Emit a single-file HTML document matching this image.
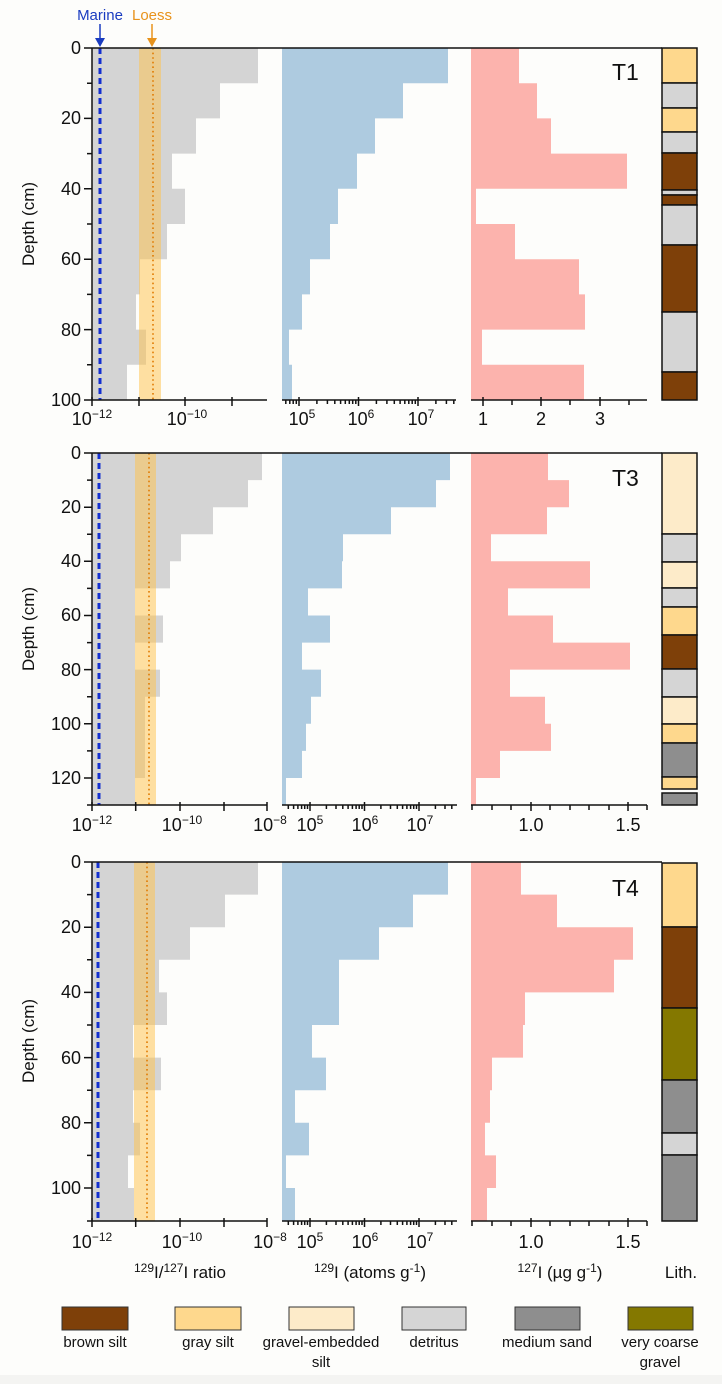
<!DOCTYPE html>
<html><head><meta charset="utf-8"><style>
html,body{margin:0;padding:0;background:#fdfdfb;}
svg{display:block;font-family:"Liberation Sans",Arial,sans-serif;}
</style></head><body>
<svg width="722" height="1384" viewBox="0 0 722 1384" xmlns="http://www.w3.org/2000/svg">
<rect width="722" height="1384" fill="#fdfdfb"/>
<rect x="0" y="1375" width="722" height="9" fill="#f4f4f2"/>

<!-- ================= T1 ================= -->
<path d="M92,48 H258 V83.2 H220 V118.4 H196 V153.6 H172 V188.8 H185 V224 H167 V259.2 H140 V294.4 H136 V329.6 H146 V364.8 H127 V400 H92 Z" fill="#d4d4d4"/>
<rect x="139" y="48" width="22" height="352" fill="#ffc247" fill-opacity="0.5"/>
<line x1="153" y1="48" x2="153" y2="400" stroke="#e07a00" stroke-width="1.6" stroke-dasharray="1.6,3"/>
<line x1="100" y1="48" x2="100" y2="400" stroke="#1430d0" stroke-width="3" stroke-dasharray="6,4"/>
<path d="M282,48 H448 V83.2 H403 V118.4 H375 V153.6 H357 V188.8 H338 V224 H330 V259.2 H310 V294.4 H302 V329.6 H289 V364.8 H292 V400 H282 Z" fill="#aecbe0"/>
<path d="M471,48 H519 V83.2 H537 V118.4 H551 V153.6 H627 V188.8 H476 V224 H515 V259.2 H579 V294.4 H585 V329.6 H482 V364.8 H584 V400 H471 Z" fill="#fcb3ad"/>
<line x1="92" y1="48" x2="662" y2="48" stroke="#111" stroke-width="1.5"/>
<line x1="92" y1="48" x2="92" y2="400" stroke="#111" stroke-width="1.5"/>
<path d="M92,48h-8M92,83.2h-5M92,118.4h-8M92,153.6h-5M92,188.8h-8M92,224h-5M92,259.2h-8M92,294.4h-5M92,329.6h-8M92,364.8h-5M92,400h-8" stroke="#111" stroke-width="1.5"/>
<g font-size="18" text-anchor="end" fill="#111">
<text x="81" y="54">0</text><text x="81" y="124">20</text><text x="81" y="195">40</text><text x="81" y="265">60</text><text x="81" y="336">80</text><text x="81" y="406">100</text>
</g>
<text transform="translate(34,224) rotate(-90)" font-size="17" text-anchor="middle" fill="#111">Depth (cm)</text>
<g stroke="#111" stroke-width="1.5" fill="none">
<path d="M92,400H267M92,397v9M139,397v9M185,397v9M232,397v9"/>
<path d="M282,400H456M285.8,400v4M289.8,400v4M293.2,400v4M296.3,400v4M299,397v9M316.9,400v4M327.4,400v4M334.8,400v4M340.6,400v4M345.3,400v4M349.3,400v4M352.7,400v4M355.8,400v4M358.5,397v9M376.4,400v4M386.9,400v4M394.3,400v4M400.1,400v4M404.8,400v4M408.8,400v4M412.2,400v4M415.3,400v4M418,397v9M435.9,400v4M446.4,400v4M453.8,400v4"/>
<path d="M471,400H647M483,397v9M512,400v5M541,397v9M570,400v5M600,397v9M629,400v5"/>
</g>
<g font-size="18" text-anchor="middle" fill="#111">
<text x="92" y="425">10<tspan font-size="12" dy="-7">−12</tspan></text>
<text x="187" y="425">10<tspan font-size="12" dy="-7">−10</tspan></text>
<text x="302" y="425">10<tspan font-size="12" dy="-7">5</tspan></text>
<text x="361" y="425">10<tspan font-size="12" dy="-7">6</tspan></text>
<text x="421" y="425">10<tspan font-size="12" dy="-7">7</tspan></text>
<text x="483" y="425">1</text><text x="541" y="425">2</text><text x="600" y="425">3</text>
</g>
<text x="612" y="80" font-size="23" fill="#111">T1</text>
<g stroke="#111" stroke-width="1.5">
<rect x="662" y="48" width="35" height="35" fill="#fed88d"/>
<rect x="662" y="83" width="35" height="25" fill="#d5d5d5"/>
<rect x="662" y="108" width="35" height="24" fill="#fed88d"/>
<rect x="662" y="132" width="35" height="21" fill="#d5d5d5"/>
<rect x="662" y="153" width="35" height="37" fill="#7e4009"/>
<rect x="662" y="190" width="35" height="5" fill="#d5d5d5"/>
<rect x="662" y="195" width="35" height="10" fill="#7e4009"/>
<rect x="662" y="205" width="35" height="40" fill="#d5d5d5"/>
<rect x="662" y="245" width="35" height="67" fill="#7e4009"/>
<rect x="662" y="312" width="35" height="60" fill="#d5d5d5"/>
<rect x="662" y="372" width="35" height="28" fill="#7e4009"/>
</g>
<text x="100" y="20" font-size="15" text-anchor="middle" fill="#1a3cc0">Marine</text>
<text x="152" y="20" font-size="15" text-anchor="middle" fill="#e8931c">Loess</text>
<line x1="100" y1="24" x2="100" y2="40" stroke="#1a3cc0" stroke-width="1.5"/>
<path d="M95,38 L105,38 L100,47 Z" fill="#1a3cc0"/>
<line x1="152" y1="24" x2="152" y2="40" stroke="#e8931c" stroke-width="1.5"/>
<path d="M147,38 L157,38 L152,47 Z" fill="#e8931c"/>

<!-- ================= T3 ================= -->
<path d="M92,453 H262 V480.1 H248 V507.2 H213 V534.2 H181 V561.3 H170 V588.4 H135 V615.5 H163 V642.6 H135 V669.6 H160 V696.7 H145 V723.8 H145 V750.9 H145 V778 H135 V805 H92 Z" fill="#d4d4d4"/>
<rect x="135" y="453" width="21" height="352" fill="#ffc247" fill-opacity="0.5"/>
<line x1="149" y1="453" x2="149" y2="805" stroke="#e07a00" stroke-width="1.6" stroke-dasharray="1.6,3"/>
<line x1="99" y1="453" x2="99" y2="805" stroke="#1430d0" stroke-width="3" stroke-dasharray="6,4"/>
<path d="M282,453 H450 V480.1 H436 V507.2 H391 V534.2 H343 V561.3 H342 V588.4 H308 V615.5 H330 V642.6 H302 V669.6 H321 V696.7 H311 V723.8 H306 V750.9 H302 V778 H286 V805 H282 Z" fill="#aecbe0"/>
<path d="M471,453 H548 V480.1 H569 V507.2 H547 V534.2 H491 V561.3 H590 V588.4 H508 V615.5 H553 V642.6 H630 V669.6 H510 V696.7 H545 V723.8 H551 V750.9 H500 V778 H476 V805 H471 Z" fill="#fcb3ad"/>
<line x1="92" y1="453" x2="662" y2="453" stroke="#111" stroke-width="1.5"/>
<line x1="92" y1="453" x2="92" y2="805" stroke="#111" stroke-width="1.5"/>
<path d="M92,453h-8M92,480.1h-5M92,507.2h-8M92,534.2h-5M92,561.3h-8M92,588.4h-5M92,615.5h-8M92,642.6h-5M92,669.6h-8M92,696.7h-5M92,723.8h-8M92,750.9h-5M92,778h-8M92,805h-5" stroke="#111" stroke-width="1.5"/>
<g font-size="18" text-anchor="end" fill="#111">
<text x="81" y="459">0</text><text x="81" y="513">20</text><text x="81" y="567">40</text><text x="81" y="621">60</text><text x="81" y="676">80</text><text x="81" y="730">100</text><text x="81" y="784">120</text>
</g>
<text transform="translate(34,629) rotate(-90)" font-size="17" text-anchor="middle" fill="#111">Depth (cm)</text>
<g stroke="#111" stroke-width="1.5" fill="none">
<path d="M92,805H267M92,802v9M135.7,802v9M180,802v9M224,802v9M267,802v9"/>
<path d="M282,805H457M288.3,805v4M293.6,805v4M297.9,805v4M301.6,805v4M304.7,805v4M307.5,805v4M310,802v9M326.4,805v4M336,805v4M342.8,805v4M348.1,805v4M352.4,805v4M356.1,805v4M359.2,805v4M362,805v4M364.5,802v9M380.9,805v4M390.5,805v4M397.3,805v4M402.6,805v4M406.9,805v4M410.6,805v4M413.7,805v4M416.5,805v4M419,802v9M435.4,805v4M445,805v4M451.8,805v4"/>
<path d="M471,805H647M472,805v5M492,805v5M511,805v5M531,802v9M550,805v5M570,805v5M589,805v5M609,805v5M628,802v9M647,805v5"/>
</g>
<g font-size="18" text-anchor="middle" fill="#111">
<text x="92" y="831">10<tspan font-size="12" dy="-7">−12</tspan></text>
<text x="182" y="831">10<tspan font-size="12" dy="-7">−10</tspan></text>
<text x="270" y="831">10<tspan font-size="12" dy="-7">−8</tspan></text>
<text x="310" y="831">10<tspan font-size="12" dy="-7">5</tspan></text>
<text x="365" y="831">10<tspan font-size="12" dy="-7">6</tspan></text>
<text x="420" y="831">10<tspan font-size="12" dy="-7">7</tspan></text>
<text x="531" y="831">1.0</text><text x="628" y="831">1.5</text>
</g>
<text x="612" y="486" font-size="23" fill="#111">T3</text>
<g stroke="#111" stroke-width="1.5">
<rect x="662" y="453" width="35" height="81" fill="#fdebc9"/>
<rect x="662" y="534" width="35" height="28" fill="#d5d5d5"/>
<rect x="662" y="562" width="35" height="26" fill="#fdebc9"/>
<rect x="662" y="588" width="35" height="19" fill="#d5d5d5"/>
<rect x="662" y="607" width="35" height="28" fill="#fed88d"/>
<rect x="662" y="635" width="35" height="34" fill="#7e4009"/>
<rect x="662" y="669" width="35" height="28" fill="#d5d5d5"/>
<rect x="662" y="697" width="35" height="27" fill="#fdebc9"/>
<rect x="662" y="724" width="35" height="19" fill="#fed88d"/>
<rect x="662" y="743" width="35" height="34" fill="#8e8e8e"/>
<rect x="662" y="777" width="35" height="12" fill="#fed88d"/>
<rect x="662" y="793" width="35" height="12" fill="#8e8e8e"/>
</g>

<!-- ================= T4 ================= -->
<path d="M92,862 H258 V894.6 H225 V927.2 H190 V959.8 H159 V992.4 H167 V1025 H133 V1057.6 H161 V1090.2 H133 V1122.8 H140 V1155.4 H128 V1188 H134 V1221 H92 Z" fill="#d4d4d4"/>
<rect x="134" y="862" width="21" height="359" fill="#ffc247" fill-opacity="0.5"/>
<line x1="147" y1="862" x2="147" y2="1221" stroke="#e07a00" stroke-width="1.6" stroke-dasharray="1.6,3"/>
<line x1="98" y1="862" x2="98" y2="1221" stroke="#1430d0" stroke-width="3" stroke-dasharray="6,4"/>
<path d="M282,862 H448 V894.6 H413 V927.2 H379 V959.8 H339 V1025 H312 V1057.6 H326 V1090.2 H295 V1122.8 H309 V1155.4 H286 V1188 H295 V1221 H282 Z" fill="#aecbe0"/>
<path d="M471,862 H521 V894.6 H557 V927.2 H633 V959.8 H614 V992.4 H525 V1025 H523 V1057.6 H492 V1090.2 H490 V1122.8 H485 V1155.4 H496 V1188 H487 V1221 H471 Z" fill="#fcb3ad"/>
<line x1="92" y1="862" x2="662" y2="862" stroke="#111" stroke-width="1.5"/>
<line x1="92" y1="862" x2="92" y2="1221" stroke="#111" stroke-width="1.5"/>
<path d="M92,862h-8M92,894.6h-5M92,927.2h-8M92,959.8h-5M92,992.4h-8M92,1025h-5M92,1057.6h-8M92,1090.2h-5M92,1122.8h-8M92,1155.4h-5M92,1188h-8M92,1221h-5" stroke="#111" stroke-width="1.5"/>
<g font-size="18" text-anchor="end" fill="#111">
<text x="81" y="868">0</text><text x="81" y="933">20</text><text x="81" y="998">40</text><text x="81" y="1064">60</text><text x="81" y="1129">80</text><text x="81" y="1194">100</text>
</g>
<text transform="translate(34,1041) rotate(-90)" font-size="17" text-anchor="middle" fill="#111">Depth (cm)</text>
<g stroke="#111" stroke-width="1.5" fill="none">
<path d="M92,1221H267M92,1218v9M135.7,1218v9M180,1218v9M224,1218v9M267,1218v9"/>
<path d="M282,1221H457M288.3,1221v4M293.6,1221v4M297.9,1221v4M301.6,1221v4M304.7,1221v4M307.5,1221v4M310,1218v9M326.4,1221v4M336,1221v4M342.8,1221v4M348.1,1221v4M352.4,1221v4M356.1,1221v4M359.2,1221v4M362,1221v4M364.5,1218v9M380.9,1221v4M390.5,1221v4M397.3,1221v4M402.6,1221v4M406.9,1221v4M410.6,1221v4M413.7,1221v4M416.5,1221v4M419,1218v9M435.4,1221v4M445,1221v4M451.8,1221v4"/>
<path d="M471,1221H647M472,1221v5M492,1221v5M511,1221v5M531,1218v9M550,1221v5M570,1221v5M589,1221v5M609,1221v5M628,1218v9M647,1221v5"/>
</g>
<g font-size="18" text-anchor="middle" fill="#111">
<text x="92" y="1248">10<tspan font-size="12" dy="-7">−12</tspan></text>
<text x="182" y="1248">10<tspan font-size="12" dy="-7">−10</tspan></text>
<text x="270" y="1248">10<tspan font-size="12" dy="-7">−8</tspan></text>
<text x="310" y="1248">10<tspan font-size="12" dy="-7">5</tspan></text>
<text x="365" y="1248">10<tspan font-size="12" dy="-7">6</tspan></text>
<text x="420" y="1248">10<tspan font-size="12" dy="-7">7</tspan></text>
<text x="531" y="1248">1.0</text><text x="628" y="1248">1.5</text>
</g>
<text x="612" y="896" font-size="23" fill="#111">T4</text>
<g stroke="#111" stroke-width="1.5">
<rect x="662" y="863" width="35" height="64" fill="#fed88d"/>
<rect x="662" y="927" width="35" height="81" fill="#7e4009"/>
<rect x="662" y="1008" width="35" height="72" fill="#847800"/>
<rect x="662" y="1080" width="35" height="53" fill="#8e8e8e"/>
<rect x="662" y="1133" width="35" height="22" fill="#d5d5d5"/>
<rect x="662" y="1155" width="35" height="66" fill="#8e8e8e"/>
</g>

<g font-size="17" text-anchor="middle" fill="#111">
<text x="180" y="1278"><tspan font-size="12" dy="-6">129</tspan><tspan dy="6">I/</tspan><tspan font-size="12" dy="-6">127</tspan><tspan dy="6">I ratio</tspan></text>
<text x="370" y="1278"><tspan font-size="12" dy="-6">129</tspan><tspan dy="6">I (atoms g</tspan><tspan font-size="12" dy="-6">-1</tspan><tspan dy="6">)</tspan></text>
<text x="560" y="1278"><tspan font-size="12" dy="-6">127</tspan><tspan dy="6">I (µg g</tspan><tspan font-size="12" dy="-6">-1</tspan><tspan dy="6">)</tspan></text>
<text x="681" y="1278">Lith.</text>
</g>

<g stroke="#333" stroke-width="1">
<rect x="62" y="1307" width="66" height="23" fill="#7e4009"/>
<rect x="175" y="1307" width="66" height="23" fill="#fed88d"/>
<rect x="289" y="1307" width="65" height="23" fill="#fdebc9"/>
<rect x="402" y="1307" width="64" height="23" fill="#d5d5d5"/>
<rect x="515" y="1307" width="65" height="23" fill="#8e8e8e"/>
<rect x="628" y="1307" width="65" height="23" fill="#847800"/>
</g>
<g font-size="15" text-anchor="middle" fill="#111">
<text x="95" y="1347">brown silt</text>
<text x="208" y="1347">gray silt</text>
<text x="321" y="1347">gravel-embedded</text>
<text x="321" y="1367">silt</text>
<text x="434" y="1347">detritus</text>
<text x="547" y="1347">medium sand</text>
<text x="660" y="1347">very coarse</text>
<text x="660" y="1367">gravel</text>
</g>
</svg>
</body></html>
